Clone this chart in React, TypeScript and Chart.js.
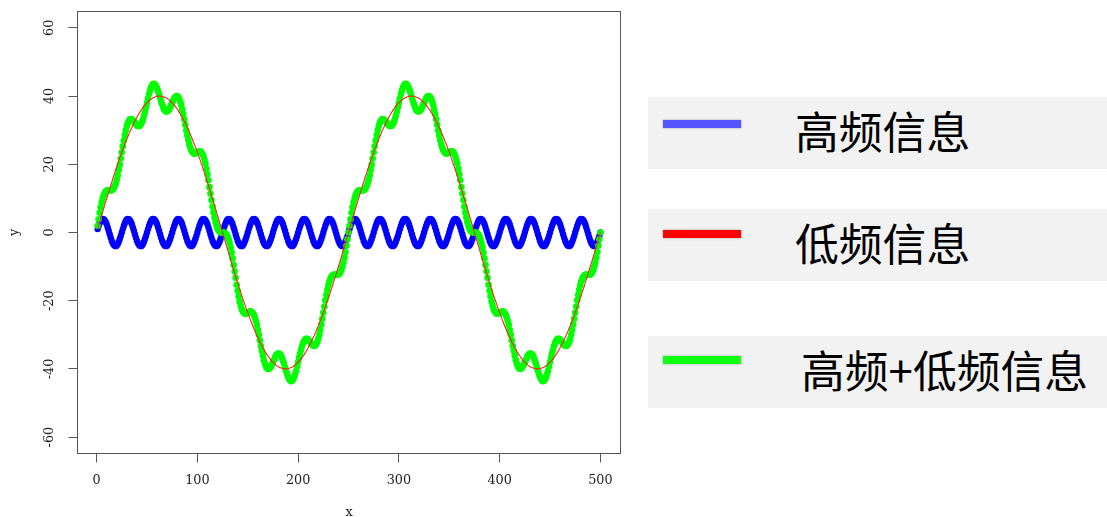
import React, { useEffect, useRef } from 'react';
import { Chart, registerables } from 'chart.js';

Chart.register(...registerables);

// x positions of the samples (categories 1..500)
const xValues: number[] = Array.from({ length: 500 }, (_, i) => i + 1);

// 高频信息 (blue)
const highFreq: number[] = [
  1.0, 1.9, 2.7, 3.4, 3.8, 4.0, 3.9, 3.6, 3.1, 2.4, 1.5, 0.5, -0.5, -1.5, -2.4, -3.1, -3.6, -3.9, -4.0, -3.8, -3.4, -2.7, -1.9, -1.0, 0.0,
  1.0, 1.9, 2.7, 3.4, 3.8, 4.0, 3.9, 3.6, 3.1, 2.4, 1.5, 0.5, -0.5, -1.5, -2.4, -3.1, -3.6, -3.9, -4.0, -3.8, -3.4, -2.7, -1.9, -1.0, 0.0,
  1.0, 1.9, 2.7, 3.4, 3.8, 4.0, 3.9, 3.6, 3.1, 2.4, 1.5, 0.5, -0.5, -1.5, -2.4, -3.1, -3.6, -3.9, -4.0, -3.8, -3.4, -2.7, -1.9, -1.0, 0.0,
  1.0, 1.9, 2.7, 3.4, 3.8, 4.0, 3.9, 3.6, 3.1, 2.4, 1.5, 0.5, -0.5, -1.5, -2.4, -3.1, -3.6, -3.9, -4.0, -3.8, -3.4, -2.7, -1.9, -1.0, 0.0,
  1.0, 1.9, 2.7, 3.4, 3.8, 4.0, 3.9, 3.6, 3.1, 2.4, 1.5, 0.5, -0.5, -1.5, -2.4, -3.1, -3.6, -3.9, -4.0, -3.8, -3.4, -2.7, -1.9, -1.0, 0.0,
  1.0, 1.9, 2.7, 3.4, 3.8, 4.0, 3.9, 3.6, 3.1, 2.4, 1.5, 0.5, -0.5, -1.5, -2.4, -3.1, -3.6, -3.9, -4.0, -3.8, -3.4, -2.7, -1.9, -1.0, 0.0,
  1.0, 1.9, 2.7, 3.4, 3.8, 4.0, 3.9, 3.6, 3.1, 2.4, 1.5, 0.5, -0.5, -1.5, -2.4, -3.1, -3.6, -3.9, -4.0, -3.8, -3.4, -2.7, -1.9, -1.0, 0.0,
  1.0, 1.9, 2.7, 3.4, 3.8, 4.0, 3.9, 3.6, 3.1, 2.4, 1.5, 0.5, -0.5, -1.5, -2.4, -3.1, -3.6, -3.9, -4.0, -3.8, -3.4, -2.7, -1.9, -1.0, 0.0,
  1.0, 1.9, 2.7, 3.4, 3.8, 4.0, 3.9, 3.6, 3.1, 2.4, 1.5, 0.5, -0.5, -1.5, -2.4, -3.1, -3.6, -3.9, -4.0, -3.8, -3.4, -2.7, -1.9, -1.0, 0.0,
  1.0, 1.9, 2.7, 3.4, 3.8, 4.0, 3.9, 3.6, 3.1, 2.4, 1.5, 0.5, -0.5, -1.5, -2.4, -3.1, -3.6, -3.9, -4.0, -3.8, -3.4, -2.7, -1.9, -1.0, 0.0,
  1.0, 1.9, 2.7, 3.4, 3.8, 4.0, 3.9, 3.6, 3.1, 2.4, 1.5, 0.5, -0.5, -1.5, -2.4, -3.1, -3.6, -3.9, -4.0, -3.8, -3.4, -2.7, -1.9, -1.0, 0.0,
  1.0, 1.9, 2.7, 3.4, 3.8, 4.0, 3.9, 3.6, 3.1, 2.4, 1.5, 0.5, -0.5, -1.5, -2.4, -3.1, -3.6, -3.9, -4.0, -3.8, -3.4, -2.7, -1.9, -1.0, 0.0,
  1.0, 1.9, 2.7, 3.4, 3.8, 4.0, 3.9, 3.6, 3.1, 2.4, 1.5, 0.5, -0.5, -1.5, -2.4, -3.1, -3.6, -3.9, -4.0, -3.8, -3.4, -2.7, -1.9, -1.0, 0.0,
  1.0, 1.9, 2.7, 3.4, 3.8, 4.0, 3.9, 3.6, 3.1, 2.4, 1.5, 0.5, -0.5, -1.5, -2.4, -3.1, -3.6, -3.9, -4.0, -3.8, -3.4, -2.7, -1.9, -1.0, 0.0,
  1.0, 1.9, 2.7, 3.4, 3.8, 4.0, 3.9, 3.6, 3.1, 2.4, 1.5, 0.5, -0.5, -1.5, -2.4, -3.1, -3.6, -3.9, -4.0, -3.8, -3.4, -2.7, -1.9, -1.0, 0.0,
  1.0, 1.9, 2.7, 3.4, 3.8, 4.0, 3.9, 3.6, 3.1, 2.4, 1.5, 0.5, -0.5, -1.5, -2.4, -3.1, -3.6, -3.9, -4.0, -3.8, -3.4, -2.7, -1.9, -1.0, 0.0,
  1.0, 1.9, 2.7, 3.4, 3.8, 4.0, 3.9, 3.6, 3.1, 2.4, 1.5, 0.5, -0.5, -1.5, -2.4, -3.1, -3.6, -3.9, -4.0, -3.8, -3.4, -2.7, -1.9, -1.0, 0.0,
  1.0, 1.9, 2.7, 3.4, 3.8, 4.0, 3.9, 3.6, 3.1, 2.4, 1.5, 0.5, -0.5, -1.5, -2.4, -3.1, -3.6, -3.9, -4.0, -3.8, -3.4, -2.7, -1.9, -1.0, 0.0,
  1.0, 1.9, 2.7, 3.4, 3.8, 4.0, 3.9, 3.6, 3.1, 2.4, 1.5, 0.5, -0.5, -1.5, -2.4, -3.1, -3.6, -3.9, -4.0, -3.8, -3.4, -2.7, -1.9, -1.0, 0.0,
  1.0, 1.9, 2.7, 3.4, 3.8, 4.0, 3.9, 3.6, 3.1, 2.4, 1.5, 0.5, -0.5, -1.5, -2.4, -3.1, -3.6, -3.9, -4.0, -3.8, -3.4, -2.7, -1.9, -1.0, 0.0,
];

// 低频信息 (red)
const lowFreq: number[] = [
  1.0, 2.0, 3.0, 4.0, 5.0, 6.0, 7.0, 8.0, 9.0, 9.9, 10.9, 11.9, 12.8, 13.8, 14.7, 15.7, 16.6, 17.5, 18.4, 19.3, 20.1, 21.0, 21.9, 22.7, 23.5,
  24.3, 25.1, 25.9, 26.6, 27.4, 28.1, 28.8, 29.5, 30.2, 30.8, 31.4, 32.1, 32.7, 33.2, 33.8, 34.3, 34.8, 35.3, 35.8, 36.2, 36.6, 37.0, 37.4, 37.7, 38.0,
  38.3, 38.6, 38.9, 39.1, 39.3, 39.5, 39.6, 39.7, 39.8, 39.9, 40.0, 40.0, 40.0, 40.0, 39.9, 39.8, 39.7, 39.6, 39.5, 39.3, 39.1, 38.9, 38.6, 38.3, 38.0,
  37.7, 37.4, 37.0, 36.6, 36.2, 35.8, 35.3, 34.8, 34.3, 33.8, 33.2, 32.7, 32.1, 31.4, 30.8, 30.2, 29.5, 28.8, 28.1, 27.4, 26.6, 25.9, 25.1, 24.3, 23.5,
  22.7, 21.9, 21.0, 20.1, 19.3, 18.4, 17.5, 16.6, 15.7, 14.7, 13.8, 12.8, 11.9, 10.9, 9.9, 9.0, 8.0, 7.0, 6.0, 5.0, 4.0, 3.0, 2.0, 1.0, 0.0,
  -1.0, -2.0, -3.0, -4.0, -5.0, -6.0, -7.0, -8.0, -9.0, -9.9, -10.9, -11.9, -12.8, -13.8, -14.7, -15.7, -16.6, -17.5, -18.4, -19.3, -20.1, -21.0, -21.9, -22.7, -23.5,
  -24.3, -25.1, -25.9, -26.6, -27.4, -28.1, -28.8, -29.5, -30.2, -30.8, -31.4, -32.1, -32.7, -33.2, -33.8, -34.3, -34.8, -35.3, -35.8, -36.2, -36.6, -37.0, -37.4, -37.7, -38.0,
  -38.3, -38.6, -38.9, -39.1, -39.3, -39.5, -39.6, -39.7, -39.8, -39.9, -40.0, -40.0, -40.0, -40.0, -39.9, -39.8, -39.7, -39.6, -39.5, -39.3, -39.1, -38.9, -38.6, -38.3, -38.0,
  -37.7, -37.4, -37.0, -36.6, -36.2, -35.8, -35.3, -34.8, -34.3, -33.8, -33.2, -32.7, -32.1, -31.4, -30.8, -30.2, -29.5, -28.8, -28.1, -27.4, -26.6, -25.9, -25.1, -24.3, -23.5,
  -22.7, -21.9, -21.0, -20.1, -19.3, -18.4, -17.5, -16.6, -15.7, -14.7, -13.8, -12.8, -11.9, -10.9, -9.9, -9.0, -8.0, -7.0, -6.0, -5.0, -4.0, -3.0, -2.0, -1.0, 0.0,
  1.0, 2.0, 3.0, 4.0, 5.0, 6.0, 7.0, 8.0, 9.0, 9.9, 10.9, 11.9, 12.8, 13.8, 14.7, 15.7, 16.6, 17.5, 18.4, 19.3, 20.1, 21.0, 21.9, 22.7, 23.5,
  24.3, 25.1, 25.9, 26.6, 27.4, 28.1, 28.8, 29.5, 30.2, 30.8, 31.4, 32.1, 32.7, 33.2, 33.8, 34.3, 34.8, 35.3, 35.8, 36.2, 36.6, 37.0, 37.4, 37.7, 38.0,
  38.3, 38.6, 38.9, 39.1, 39.3, 39.5, 39.6, 39.7, 39.8, 39.9, 40.0, 40.0, 40.0, 40.0, 39.9, 39.8, 39.7, 39.6, 39.5, 39.3, 39.1, 38.9, 38.6, 38.3, 38.0,
  37.7, 37.4, 37.0, 36.6, 36.2, 35.8, 35.3, 34.8, 34.3, 33.8, 33.2, 32.7, 32.1, 31.4, 30.8, 30.2, 29.5, 28.8, 28.1, 27.4, 26.6, 25.9, 25.1, 24.3, 23.5,
  22.7, 21.9, 21.0, 20.1, 19.3, 18.4, 17.5, 16.6, 15.7, 14.7, 13.8, 12.8, 11.9, 10.9, 9.9, 9.0, 8.0, 7.0, 6.0, 5.0, 4.0, 3.0, 2.0, 1.0, 0.0,
  -1.0, -2.0, -3.0, -4.0, -5.0, -6.0, -7.0, -8.0, -9.0, -9.9, -10.9, -11.9, -12.8, -13.8, -14.7, -15.7, -16.6, -17.5, -18.4, -19.3, -20.1, -21.0, -21.9, -22.7, -23.5,
  -24.3, -25.1, -25.9, -26.6, -27.4, -28.1, -28.8, -29.5, -30.2, -30.8, -31.4, -32.1, -32.7, -33.2, -33.8, -34.3, -34.8, -35.3, -35.8, -36.2, -36.6, -37.0, -37.4, -37.7, -38.0,
  -38.3, -38.6, -38.9, -39.1, -39.3, -39.5, -39.6, -39.7, -39.8, -39.9, -40.0, -40.0, -40.0, -40.0, -39.9, -39.8, -39.7, -39.6, -39.5, -39.3, -39.1, -38.9, -38.6, -38.3, -38.0,
  -37.7, -37.4, -37.0, -36.6, -36.2, -35.8, -35.3, -34.8, -34.3, -33.8, -33.2, -32.7, -32.1, -31.4, -30.8, -30.2, -29.5, -28.8, -28.1, -27.4, -26.6, -25.9, -25.1, -24.3, -23.5,
  -22.7, -21.9, -21.0, -20.1, -19.3, -18.4, -17.5, -16.6, -15.7, -14.7, -13.8, -12.8, -11.9, -10.9, -9.9, -9.0, -8.0, -7.0, -6.0, -5.0, -4.0, -3.0, -2.0, -1.0, 0.0,
];

// 高频+低频信息 (green)
const combined: number[] = [
  2.0, 3.9, 5.8, 7.4, 8.8, 10.0, 10.9, 11.6, 12.1, 12.3, 12.4, 12.4, 12.3, 12.3, 12.4, 12.6, 13.0, 13.6, 14.4, 15.5, 16.8, 18.3, 19.9, 21.7, 23.5,
  25.3, 27.0, 28.6, 30.0, 31.2, 32.1, 32.7, 33.1, 33.3, 33.2, 32.9, 32.6, 32.2, 31.8, 31.4, 31.2, 31.2, 31.4, 31.8, 32.4, 33.2, 34.3, 35.4, 36.7, 38.0,
  39.3, 40.6, 41.6, 42.5, 43.1, 43.5, 43.6, 43.4, 42.9, 42.3, 41.4, 40.5, 39.5, 38.5, 37.6, 36.8, 36.1, 35.7, 35.5, 35.5, 35.7, 36.1, 36.7, 37.4, 38.0,
  38.7, 39.3, 39.7, 40.0, 40.0, 39.7, 39.2, 38.4, 37.4, 36.1, 34.7, 33.2, 31.6, 30.0, 28.5, 27.1, 25.9, 24.9, 24.1, 23.6, 23.3, 23.1, 23.2, 23.3, 23.5,
  23.7, 23.8, 23.8, 23.5, 23.1, 22.4, 21.4, 20.2, 18.7, 17.1, 15.3, 13.3, 11.4, 9.5, 7.6, 5.9, 4.4, 3.1, 2.0, 1.2, 0.6, 0.3, 0.1, 0.0, 0.0,
  0.0, -0.1, -0.3, -0.6, -1.2, -2.0, -3.1, -4.4, -5.9, -7.6, -9.5, -11.4, -13.3, -15.3, -17.1, -18.7, -20.2, -21.4, -22.4, -23.1, -23.5, -23.8, -23.8, -23.7, -23.5,
  -23.3, -23.2, -23.1, -23.3, -23.6, -24.1, -24.9, -25.9, -27.1, -28.5, -30.0, -31.6, -33.2, -34.7, -36.1, -37.4, -38.4, -39.2, -39.7, -40.0, -40.0, -39.7, -39.3, -38.7, -38.0,
  -37.4, -36.7, -36.1, -35.7, -35.5, -35.5, -35.7, -36.1, -36.8, -37.6, -38.5, -39.5, -40.5, -41.4, -42.3, -42.9, -43.4, -43.6, -43.5, -43.1, -42.5, -41.6, -40.6, -39.3, -38.0,
  -36.7, -35.4, -34.3, -33.2, -32.4, -31.8, -31.4, -31.2, -31.2, -31.4, -31.8, -32.2, -32.6, -32.9, -33.2, -33.3, -33.1, -32.7, -32.1, -31.2, -30.0, -28.6, -27.0, -25.3, -23.5,
  -21.7, -19.9, -18.3, -16.8, -15.5, -14.4, -13.6, -13.0, -12.6, -12.4, -12.3, -12.3, -12.4, -12.4, -12.3, -12.1, -11.6, -10.9, -10.0, -8.8, -7.4, -5.8, -3.9, -2.0, 0.0,
  2.0, 3.9, 5.8, 7.4, 8.8, 10.0, 10.9, 11.6, 12.1, 12.3, 12.4, 12.4, 12.3, 12.3, 12.4, 12.6, 13.0, 13.6, 14.4, 15.5, 16.8, 18.3, 19.9, 21.7, 23.5,
  25.3, 27.0, 28.6, 30.0, 31.2, 32.1, 32.7, 33.1, 33.3, 33.2, 32.9, 32.6, 32.2, 31.8, 31.4, 31.2, 31.2, 31.4, 31.8, 32.4, 33.2, 34.3, 35.4, 36.7, 38.0,
  39.3, 40.6, 41.6, 42.5, 43.1, 43.5, 43.6, 43.4, 42.9, 42.3, 41.4, 40.5, 39.5, 38.5, 37.6, 36.8, 36.1, 35.7, 35.5, 35.5, 35.7, 36.1, 36.7, 37.4, 38.0,
  38.7, 39.3, 39.7, 40.0, 40.0, 39.7, 39.2, 38.4, 37.4, 36.1, 34.7, 33.2, 31.6, 30.0, 28.5, 27.1, 25.9, 24.9, 24.1, 23.6, 23.3, 23.1, 23.2, 23.3, 23.5,
  23.7, 23.8, 23.8, 23.5, 23.1, 22.4, 21.4, 20.2, 18.7, 17.1, 15.3, 13.3, 11.4, 9.5, 7.6, 5.9, 4.4, 3.1, 2.0, 1.2, 0.6, 0.3, 0.1, 0.0, 0.0,
  0.0, -0.1, -0.3, -0.6, -1.2, -2.0, -3.1, -4.4, -5.9, -7.6, -9.5, -11.4, -13.3, -15.3, -17.1, -18.7, -20.2, -21.4, -22.4, -23.1, -23.5, -23.8, -23.8, -23.7, -23.5,
  -23.3, -23.2, -23.1, -23.3, -23.6, -24.1, -24.9, -25.9, -27.1, -28.5, -30.0, -31.6, -33.2, -34.7, -36.1, -37.4, -38.4, -39.2, -39.7, -40.0, -40.0, -39.7, -39.3, -38.7, -38.0,
  -37.4, -36.7, -36.1, -35.7, -35.5, -35.5, -35.7, -36.1, -36.8, -37.6, -38.5, -39.5, -40.5, -41.4, -42.3, -42.9, -43.4, -43.6, -43.5, -43.1, -42.5, -41.6, -40.6, -39.3, -38.0,
  -36.7, -35.4, -34.3, -33.2, -32.4, -31.8, -31.4, -31.2, -31.2, -31.4, -31.8, -32.2, -32.6, -32.9, -33.2, -33.3, -33.1, -32.7, -32.1, -31.2, -30.0, -28.6, -27.0, -25.3, -23.5,
  -21.7, -19.9, -18.3, -16.8, -15.5, -14.4, -13.6, -13.0, -12.6, -12.4, -12.3, -12.3, -12.4, -12.4, -12.3, -12.1, -11.6, -10.9, -10.0, -8.8, -7.4, -5.8, -3.9, -2.0, 0.0,
];

const xTicks: number[] = [0, 100, 200, 300, 400, 500];
const yTicks: number[] = [-60, -40, -20, 0, 20, 40, 60];
const legendLabels: string[] = ['高频信息', '低频信息', '高频+低频信息'];
const legendColors: string[] = ['#5555ff', '#ff0000', '#10ff10'];

const axisFont = { family: '"DejaVu Serif", "Liberation Serif", serif', size: 12.8 };

const boxPlugin = {
  id: 'rBox',
  afterDraw(chart: any) {
    const { ctx, chartArea } = chart;
    ctx.save();
    ctx.strokeStyle = '#555555';
    ctx.lineWidth = 1;
    ctx.strokeRect(chartArea.left, chartArea.top, chartArea.right - chartArea.left, chartArea.bottom - chartArea.top);
    ctx.restore();
  },
};

export default function App() {
  const canvasRef = useRef<HTMLCanvasElement | null>(null);

  useEffect(() => {
    const canvas = canvasRef.current;
    if (!canvas) return;
    const toPts = (arr: number[]) => xValues.map((x, i) => ({ x, y: arr[i] }));
    const chart = new Chart(canvas, {
      type: 'scatter',
      data: {
        datasets: [
          {
            label: legendLabels[1],
            data: toPts(lowFreq),
            showLine: true,
            borderColor: '#ff2020',
            borderWidth: 1.1,
            pointRadius: 0,
            pointHoverRadius: 0,
            order: 1,
          } as any,
          {
            label: legendLabels[2],
            data: toPts(combined),
            backgroundColor: '#00ff00',
            borderWidth: 0,
            pointRadius: 3.3,
            pointHoverRadius: 3.3,
            order: 2,
          },
          {
            label: legendLabels[0],
            data: toPts(highFreq),
            backgroundColor: '#0000ff',
            borderWidth: 0,
            pointRadius: 3.2,
            pointHoverRadius: 3.2,
            order: 3,
          },
        ],
      },
      options: {
        animation: false,
        responsive: false,
        maintainAspectRatio: false,
        devicePixelRatio: 1,
        events: [],
        layout: { padding: { left: 0, top: 11.5, right: 486.5, bottom: 0 } },
        plugins: { legend: { display: false }, tooltip: { enabled: false } },
        scales: {
          x: {
            type: 'linear',
            min: -18.96,
            max: 519.96,
            afterBuildTicks: (s: any) => {
              s.ticks = xTicks.map((v) => ({ value: v }));
            },
            afterFit: (s: any) => {
              s.height = 63.5;
              s.paddingLeft = 0;
              s.paddingRight = 0;
              s.paddingTop = 0;
              s.paddingBottom = 0;
            },
            grid: { drawOnChartArea: false, drawTicks: true, tickLength: 9, color: '#555555', lineWidth: 1 },
            border: { display: false },
            ticks: { font: axisFont, color: '#222222', padding: 10, autoSkip: false, maxRotation: 0, minRotation: 0 },
            title: { display: true, text: 'x', font: axisFont, color: '#222222', padding: { top: 0, bottom: -3 } },
          },
          y: {
            type: 'linear',
            min: -64.8,
            max: 64.8,
            afterBuildTicks: (s: any) => {
              s.ticks = yTicks.map((v) => ({ value: v }));
            },
            afterFit: (s: any) => {
              s.width = 77.5;
              s.paddingLeft = 0;
              s.paddingRight = 0;
              s.paddingTop = 0;
              s.paddingBottom = 0;
            },
            grid: { drawOnChartArea: false, drawTicks: true, tickLength: 9, color: '#555555', lineWidth: 1 },
            border: { display: false },
            ticks: { font: axisFont, color: '#222222', padding: 8.5, autoSkip: false, minRotation: 90, maxRotation: 90, crossAlign: 'center' },
            title: { display: true, text: 'y', font: axisFont, color: '#222222', padding: { top: 7.3, bottom: 0 } },
          },
        },
      },
      plugins: [boxPlugin],
    });
    return () => chart.destroy();
  }, []);

  const boxTops = [97, 209, 336];
  const swatchTops = [120, 230, 356];
  const textTops = [108.6, 220.6, 347.6];
  const textLefts = [795, 795, 801];

  return (
    <div style={{ position: 'absolute', left: 0, top: 0, width: 1107, height: 517, background: '#ffffff', overflow: 'hidden' }}>
      <canvas ref={canvasRef} width={1107} height={517} style={{ position: 'absolute', left: 0, top: 0, width: 1107, height: 517 }} />
      {legendLabels.map((lab, i) => (
        <React.Fragment key={lab}>
          <div style={{ position: 'absolute', left: 648, top: boxTops[i], width: 459, height: 72, background: '#f2f2f2' }} />
          <div
            style={{
              position: 'absolute',
              left: 663,
              top: swatchTops[i],
              width: 78,
              height: 7.5,
              background: legendColors[i],
              boxShadow: '0 0 3px rgba(0,0,0,0.3)',
            }}
          />
          <div
            style={{
              position: 'absolute',
              left: textLefts[i],
              top: textTops[i],
              fontFamily: '"Noto Sans CJK SC", "Noto Sans", sans-serif',
              fontSize: 43.8,
              lineHeight: '43.8px',
              color: '#000000',
              whiteSpace: 'nowrap',
            }}
          >
            {lab}
          </div>
        </React.Fragment>
      ))}
    </div>
  );
}
